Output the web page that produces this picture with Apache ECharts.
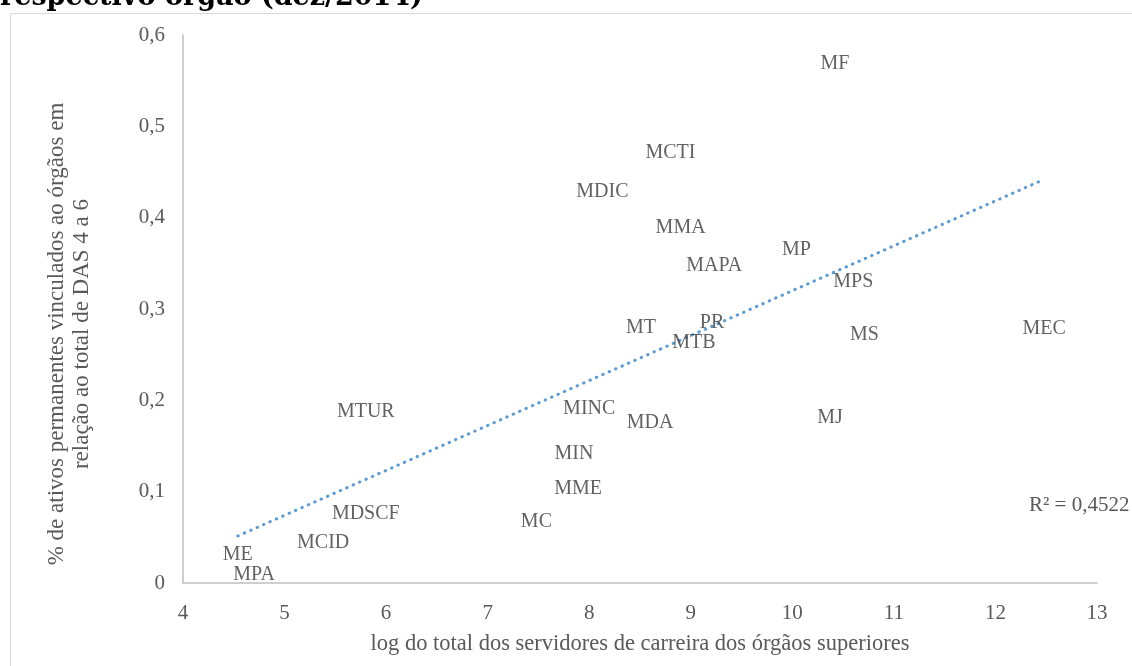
<!DOCTYPE html>
<html>
<head>
<meta charset="utf-8">
<script src="https://cdn.jsdelivr.net/npm/echarts@6/dist/echarts.min.js"></script>
<style>
  html, body { margin: 0; padding: 0; background: #fff; }
  #chart { width: 1132px; height: 666px; }
</style>
</head>
<body>
<div id="chart"></div>
<script>
// órgãos (rótulos dos pontos)
const orgaos = ['MF', 'MCTI', 'MDIC', 'MMA', 'MP', 'MAPA', 'MPS', 'PR', 'MT', 'MTB', 'MS', 'MEC',
    'MJ', 'MDA', 'MINC', 'MTUR', 'MIN', 'MME', 'MC', 'MDSCF', 'MCID', 'ME', 'MPA'];
// log do total dos servidores de carreira
const logServidores = [10.42, 8.80, 8.13, 8.90, 10.04, 9.23, 10.60, 9.21, 8.51, 9.03, 10.71, 12.48,
    10.37, 8.60, 8.00, 5.80, 7.85, 7.89, 7.48, 5.80, 5.38, 4.54, 4.70];
// % de ativos permanentes em relação ao total de DAS 4 a 6
const pctAtivos = [0.569, 0.471, 0.428, 0.389, 0.365, 0.347, 0.330, 0.285, 0.279, 0.263, 0.272, 0.278,
    0.181, 0.175, 0.191, 0.188, 0.141, 0.103, 0.067, 0.0755, 0.044, 0.031, 0.009];
// linha de tendência (extremos)
const trendX = [4.54, 12.48];
const trendY = [0.0515, 0.442];
const r2 = '0,4522';

const serif = '"Liberation Serif", "DejaVu Serif", serif';

var chart = echarts.init(document.getElementById('chart'));

chart.setOption({
    animation: false,
    backgroundColor: '#fff',
    grid: { left: 183, right: 35, top: 35, bottom: 83 },
    xAxis: {
        type: 'value',
        min: 4, max: 13, interval: 1,
        name: 'log do total dos servidores de carreira dos órgãos superiores',
        nameLocation: 'middle',
        nameGap: 50,
        nameTextStyle: { fontFamily: serif, fontSize: 22.5, color: '#595959' },
        axisLine: { lineStyle: { color: '#bfbfbf', width: 1.5 } },
        axisTick: { show: false },
        splitLine: { show: false },
        axisLabel: { fontFamily: serif, fontSize: 21, color: '#595959', margin: 20 }
    },
    yAxis: {
        type: 'value',
        min: 0, max: 0.6, interval: 0.1,
        name: '% de ativos permanentes vinculados ao órgãos em\nrelação ao total de DAS 4 a 6',
        nameLocation: 'middle',
        nameGap: 89,
        nameTextStyle: {
            fontFamily: serif, fontSize: 23, color: '#595959', lineHeight: 25,
            padding: [0, 50, 0, 0]
        },
        axisLine: { show: true, lineStyle: { color: '#bfbfbf', width: 1.5 } },
        axisTick: { show: false },
        splitLine: { show: false },
        axisLabel: {
            fontFamily: serif, fontSize: 21, color: '#595959', margin: 18,
            formatter: v => String(Math.round(v * 10) / 10).replace('.', ',')
        }
    },
    graphic: [
        {
            type: 'rect', left: 8, top: 11, z: -1,
            shape: { width: 1140, height: 670 },
            style: { fill: 'none', stroke: '#d9d9d9', lineWidth: 1 }
        },
        {
            type: 'text', x: 0, y: -2,
            style: {
                text: 'respectivo órgão (dez/2014)',
                font: 'bold 27px "DejaVu Serif", serif',
                fill: '#000', verticalAlign: 'middle'
            }
        },
        {
            type: 'text', x: 1029, y: 505,
            style: {
                text: 'R² = ' + r2,
                font: '21px ' + serif,
                fill: '#595959', verticalAlign: 'middle'
            }
        }
    ],
    series: [
        {
            type: 'line',
            data: trendX.map((x, i) => [x, trendY[i]]),
            symbol: 'none',
            lineStyle: { color: '#5b9bd5', width: 3, type: [0.5, 6.5], cap: 'round' },
            z: 1
        },
        {
            type: 'scatter',
            data: logServidores.map((x, i) => ({ value: [x, pctAtivos[i]], name: orgaos[i] })),
            symbolSize: 1,
            itemStyle: { color: 'rgba(0,0,0,0)' },
            label: {
                show: true,
                position: 'inside',
                formatter: p => p.name,
                fontFamily: serif,
                fontSize: 20,
                color: '#3a3a3a'
            },
            z: 2
        }
    ]
});
</script>
</body>
</html>
